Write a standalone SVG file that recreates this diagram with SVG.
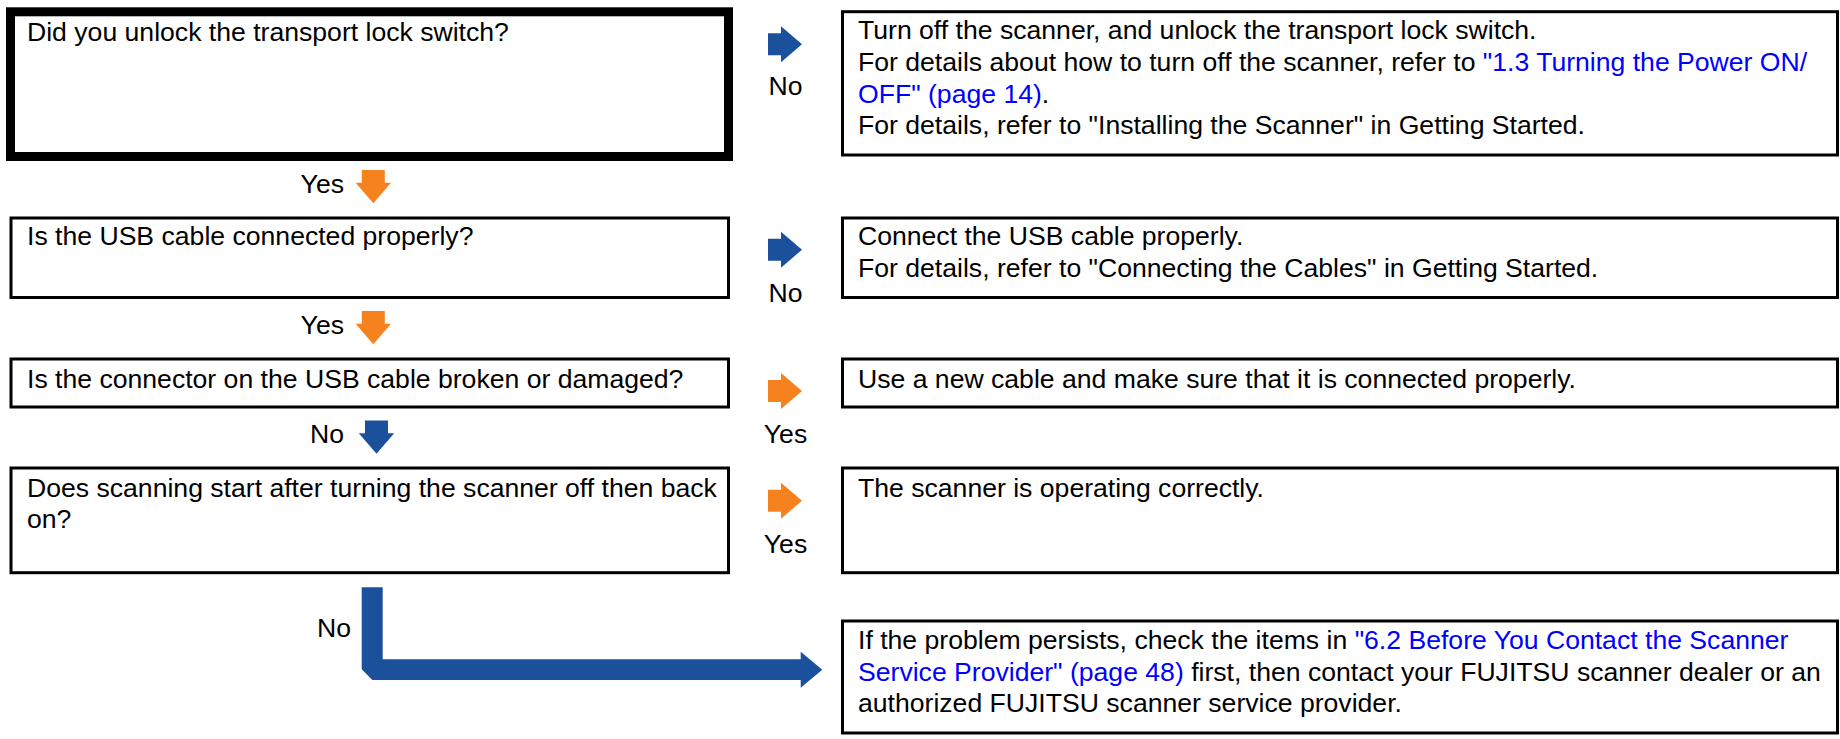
<svg xmlns="http://www.w3.org/2000/svg" width="1840" height="739" viewBox="0 0 1840 739">
<style>
text{font-family:"Liberation Sans",Arial,sans-serif;font-size:26.6px;fill:#000}
.box{fill:#fff;stroke:#000;stroke-width:3}
.cur{fill:#fff;stroke:#000;stroke-width:9}
.lnk{fill:#0000ff}
.blue{fill:#1b519c}
.orange{fill:#f5821f}
.lbl{text-anchor:middle}
.lbr{text-anchor:end}
</style>
<defs>
<path id="ra" d="M0,-11 H13 V-18 L34,0 L13,18 V11 H0 Z"/>
<path id="da" d="M-11.5,0 H11.5 V12.7 H17.7 L0,33.3 L-17.7,12.7 H-11.5 Z"/>
</defs>
<rect width="1840" height="739" fill="#fff"/>

<g id="q1">
<rect class="cur" x="10.5" y="11.8" width="718" height="144.7"/>
<text x="27" y="41">Did you unlock the transport lock switch?</text>
</g>
<g id="a1">
<rect class="box" x="842.5" y="11.7" width="995" height="143.3"/>
<text x="858" y="39.3">Turn off the scanner, and unlock the transport lock switch.</text>
<text x="858" y="71">For details about how to turn off the scanner, refer to <tspan class="lnk">"1.3 Turning the Power ON/</tspan></text>
<text x="858" y="102.7"><tspan class="lnk">OFF" (page 14)</tspan>.</text>
<text x="858" y="134.4">For details, refer to "Installing the Scanner" in Getting Started.</text>
</g>

<g id="q2">
<rect class="box" x="11" y="218" width="717.5" height="79.5"/>
<text x="27" y="245">Is the USB cable connected properly?</text>
</g>
<g id="a2">
<rect class="box" x="842.5" y="218" width="995" height="79.5"/>
<text x="858" y="245">Connect the USB cable properly.</text>
<text x="858" y="276.7">For details, refer to "Connecting the Cables" in Getting Started.</text>
</g>

<g id="q3">
<rect class="box" x="11" y="359" width="717.5" height="48"/>
<text x="27" y="387.7">Is the connector on the USB cable broken or damaged?</text>
</g>
<g id="a3">
<rect class="box" x="842.5" y="359" width="995" height="48"/>
<text x="858" y="387.7">Use a new cable and make sure that it is connected properly.</text>
</g>

<g id="q4">
<rect class="box" x="11" y="468" width="717.5" height="104.7"/>
<text x="27" y="496.7">Does scanning start after turning the scanner off then back</text>
<text x="27" y="528.3">on?</text>
</g>
<g id="a4">
<rect class="box" x="842.5" y="468" width="995" height="104.7"/>
<text x="858" y="496.7">The scanner is operating correctly.</text>
</g>

<g id="a5">
<rect class="box" x="842.5" y="621" width="995" height="112"/>
<text x="858" y="649">If the problem persists, check the items in <tspan class="lnk">"6.2 Before You Contact the Scanner</tspan></text>
<text x="858" y="680.7"><tspan class="lnk">Service Provider" (page 48)</tspan> first, then contact your FUJITSU scanner dealer or an</text>
<text x="858" y="712.3">authorized FUJITSU scanner service provider.</text>
</g>

<g id="connectors">
<use href="#ra" class="blue" x="768" y="44.3"/>
<text class="lbl" x="785.5" y="95">No</text>
<use href="#ra" class="blue" x="768" y="249.7"/>
<text class="lbl" x="785.5" y="301.7">No</text>
<use href="#ra" class="orange" x="768" y="391"/>
<text class="lbl" x="785.5" y="443">Yes</text>
<use href="#ra" class="orange" x="768" y="500.8"/>
<text class="lbl" x="785.5" y="553">Yes</text>

<use href="#da" class="orange" x="373.3" y="170"/>
<text class="lbr" x="344" y="193">Yes</text>
<use href="#da" class="orange" x="373.3" y="311"/>
<text class="lbr" x="344" y="334">Yes</text>
<use href="#da" class="blue" x="376.5" y="420.5"/>
<text class="lbr" x="344" y="443.3">No</text>

<path class="blue" d="M361.7,587.3 H382.7 V659.3 H800.7 V651.7 L822.3,669.7 L800.7,687.7 V680 H372.3 L361.7,669.3 Z"/>
<text class="lbr" x="351" y="636.7">No</text>
</g>
</svg>
